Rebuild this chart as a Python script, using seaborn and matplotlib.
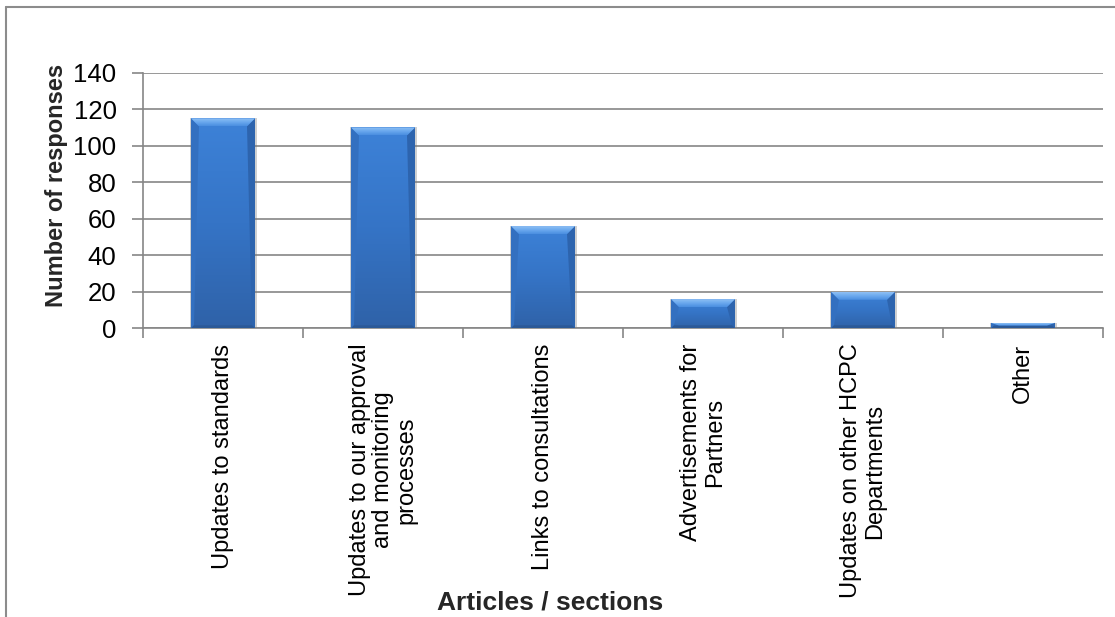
import numpy as np
import matplotlib
matplotlib.use("Agg")
import matplotlib.pyplot as plt
import seaborn as sns
from matplotlib.colors import LinearSegmentedColormap
from matplotlib.patches import Polygon, Rectangle
from matplotlib.lines import Line2D

# Survey results: which newsletter articles/sections respondents read
categories = [
    "Updates to standards",
    "Updates to our approval\nand monitoring\nprocesses",
    "Links to consultations",
    "Advertisements for\nPartners",
    "Updates on other HCPC\nDepartments",
    "Other",
]
responses = [115, 110, 56, 16, 20, 3]
y_ticks = [0, 20, 40, 60, 80, 100, 120, 140]

sns.set_style("white")
plt.rcParams["font.family"] = ["Liberation Sans", "DejaVu Sans"]

GREY = "#868686"
W, H = 1115, 617
fig = plt.figure(figsize=(W / 100, H / 100), dpi=100)
ax = fig.add_axes([143 / W, 1 - 328.3 / H, 960 / W, 255.6 / H])

sns.barplot(x=categories, y=responses, color="#3a7bd0", saturation=1,
            width=0.4, ax=ax, zorder=3, linewidth=0)

ax.set_xlim(-0.5, len(categories) - 0.5)
ax.set_ylim(y_ticks[0], y_ticks[-1])

# pixel size of one data unit, used for the bevel and shadow widths
p0 = ax.transData.transform((0, 0))
p1 = ax.transData.transform((1, 1))
sx, sy = p1 - p0

body_cmap = LinearSegmentedColormap.from_list(
    "body", ["#2f62a8", "#3574c6", "#3d82d8"])
top_cmap = LinearSegmentedColormap.from_list(
    "top", ["#4a8ee0", "#6aa8ee", "#8fc0f4"])
grad = np.linspace(0, 1, 256).reshape(-1, 1)

for bar in list(ax.patches):
    x0, y0 = bar.get_x(), bar.get_y()
    w, h = bar.get_width(), bar.get_height()
    x1, y1 = x0 + w, y0 + h
    # soft drop shadow
    ax.add_patch(Rectangle((x0 - 1 / sx, y0 - 1.5 / sy), w + 2.5 / sx, h + 1.5 / sy,
                           facecolor="#7a7a7a", alpha=0.35, lw=0, zorder=2.5))
    im = ax.imshow(grad, extent=[x0, x1, y0, y1], origin="lower",
                   aspect="auto", cmap=body_cmap, zorder=3.1,
                   interpolation="bilinear")
    im.set_clip_path(bar)

    bx = min(8 / sx, w / 2)
    by = min(8 / sy, h / 2)
    sbx = min(3 / sx, w / 2)
    sby = min(3 / sy, h / 2)
    top = Polygon([(x0, y1), (x1, y1), (x1 - bx, y1 - by), (x0 + bx, y1 - by)],
                  closed=True, facecolor="none", lw=0)
    ax.add_patch(top)
    tim = ax.imshow(grad, extent=[x0, x1, y1 - by, y1], origin="lower",
                    aspect="auto", cmap=top_cmap, zorder=3.3,
                    interpolation="bilinear")
    tim.set_clip_path(top)
    sides = [
        ([(x0, y0), (x0, y1), (x0 + bx, y1 - by), (x0 + sbx, y0 + sby)], "#3370c0"),
        ([(x1, y0), (x1, y1), (x1 - bx, y1 - by), (x1 - sbx, y0 + sby)], "#2d64ae"),
        ([(x0, y0), (x1, y0), (x1 - sbx, y0 + sby), (x0 + sbx, y0 + sby)], "#2b5997"),
    ]
    for pts, col in sides:
        ax.add_patch(Polygon(pts, closed=True, facecolor=col, lw=0, zorder=3.2))

ax.set_xlim(-0.5, len(categories) - 0.5)
ax.set_ylim(y_ticks[0], y_ticks[-1])
ax.set_yticks(y_ticks)
ax.set_xticks(range(len(categories)))
ax.set_xticklabels(categories, rotation=90, ha="center", va="top",
                   multialignment="center", linespacing=1.08, fontsize=17)
ax.set_xticks(np.arange(-0.5, len(categories), 1), minor=True)

ax.yaxis.grid(True, color=GREY, lw=1.2)
ax.xaxis.grid(False)
ax.set_axisbelow(True)
for side in ("top", "right"):
    ax.spines[side].set_visible(False)
for side in ("left", "bottom"):
    ax.spines[side].set_color(GREY)
    ax.spines[side].set_linewidth(1.2)

ax.tick_params(axis="y", which="major", left=True, direction="out", length=8,
               width=1.2, color=GREY, pad=11, labelsize=18.5, labelcolor="black")
ax.tick_params(axis="x", which="major", bottom=True, length=0, pad=11,
               labelsize=17, labelcolor="black")
ax.tick_params(axis="x", which="minor", bottom=True, direction="out",
               length=7, width=1.2, color=GREY)

ax.set_ylabel("Number of responses", fontsize=17, fontweight="bold")
ax.yaxis.set_label_coords(-0.078, 0.557)
ax.set_xlabel("Articles / sections", fontsize=19, fontweight="bold")
ax.xaxis.set_label_coords(0.424, -1.024)

# chart-area frame
fig.add_artist(Line2D([6 / W, 1], [1 - 7 / H] * 2, transform=fig.transFigure,
                      color="#8c8c8c", lw=1.5))
fig.add_artist(Line2D([6 / W] * 2, [0, 1 - 7 / H], transform=fig.transFigure,
                      color="#8c8c8c", lw=1.5))

fig.savefig("out.png", dpi=100)
